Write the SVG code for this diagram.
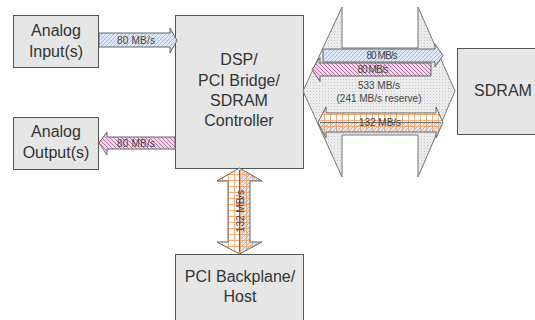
<svg xmlns="http://www.w3.org/2000/svg" width="535" height="320" viewBox="0 0 535 320">
<style>
.box{fill:#e6e6e6;stroke:#555;stroke-width:1}
.lbl{font-family:"Liberation Sans",Arial,sans-serif;font-size:16px;fill:#333;text-anchor:middle}
.sm{font-family:"Liberation Sans",Arial,sans-serif;font-size:10px;fill:#444;text-anchor:middle}
.ol{stroke:#666;stroke-width:1;stroke-linejoin:miter}
</style>
<defs>
<pattern id="blueHatch" width="4" height="4" patternUnits="userSpaceOnUse">
<rect width="4" height="4" fill="#dfe8f6"/>
<path d="M-1,1 l2,-2 M0,4 l4,-4 M3,5 l2,-2" stroke="#9ab0d8" stroke-width="0.8"/>
</pattern>
<pattern id="pinkHatch" width="4" height="4" patternUnits="userSpaceOnUse">
<rect width="4" height="4" fill="#efd9ea"/>
<path d="M-1,3 l2,2 M0,0 l4,4 M3,-1 l2,2" stroke="#b2689c" stroke-width="0.9"/>
</pattern>
<pattern id="orangeGrid" width="6" height="6" patternUnits="userSpaceOnUse">
<path d="M0,0.5 H6 M0.5,0 V6" stroke="#f5a46a" stroke-width="0.9" fill="none"/>
</pattern>
<pattern id="dots" width="3" height="3" patternUnits="userSpaceOnUse">
<rect width="3" height="3" fill="#ececec"/>
<rect x="1" y="1" width="1" height="1" fill="#c6c6c6"/>
</pattern>
<clipPath id="lowerHalf"><rect x="300" y="122.5" width="160" height="20"/></clipPath>
<clipPath id="rightHalf"><rect x="239.5" y="160" width="30" height="100"/></clipPath>
</defs>
<rect width="535" height="320" fill="#fff"/>

<g id="analog-input"><rect class="box" x="13.5" y="15.5" width="85" height="52"/>
<text class="lbl" x="56" y="36">Analog</text><text class="lbl" x="56" y="57">Input(s)</text></g>

<g id="analog-output"><rect class="box" x="13.5" y="117.5" width="85" height="52"/>
<text class="lbl" x="56" y="137">Analog</text><text class="lbl" x="56" y="158">Output(s)</text></g>

<g id="dsp"><rect class="box" x="175.5" y="15.5" width="128" height="153"/>
<text class="lbl" x="239" y="65">DSP/</text><text class="lbl" x="239" y="86">PCI Bridge/</text>
<text class="lbl" x="239" y="106">SDRAM</text><text class="lbl" x="239" y="126">Controller</text></g>

<g id="sdram"><rect class="box" x="457.5" y="48.5" width="82" height="86"/>
<text class="lbl" x="503" y="96">SDRAM</text></g>

<g id="pci-host"><rect class="box" x="175.5" y="254.5" width="128" height="70"/>
<text class="lbl" x="240" y="282">PCI Backplane/</text><text class="lbl" x="240" y="302">Host</text></g>

<g id="connectors">
<path class="ol" fill="url(#blueHatch)" d="M99,33 H170 V28 L177,40.5 L170,53 V47 H99 Z"/>
<text class="sm" x="136" y="44" textLength="38">80 MB/s</text>

<path class="ol" fill="url(#pinkHatch)" d="M175,137 H107 V132 L99,143 L107,155 V149 H175 Z"/>
<text class="sm" x="136" y="147" textLength="38">80 MB/s</text>

<path stroke="#777" stroke-width="1" fill="url(#dots)" d="M303,91 L342,7 V48 H418 V7 L455,91 L418,177 V135 H342 V177 Z"/>

<path class="ol" fill="url(#blueHatch)" d="M323,49 H435 V44 L443,55.5 L435,67 V62 H323 Z"/>
<text class="sm" x="382" y="59" font-size="9.5" textLength="31">80 MB/s</text>
<path class="ol" fill="url(#pinkHatch)" d="M431,63 H320 V57.5 L312,69.5 L320,81.5 V76 H431 Z"/>
<text class="sm" x="373" y="73" font-size="9.5" textLength="31">80 MB/s</text>

<text class="sm" x="379" y="89" font-size="10.5">533 MB/s</text>
<text class="sm" x="379" y="102" font-size="10.5">(241 MB/s reserve)</text>

<path fill="#fff" d="M326,113 H436 V107 L443,122.5 L436,138 V132 H326 V138 L318,122.5 L326,107 Z"/>
<path fill="url(#blueHatch)" clip-path="url(#lowerHalf)" d="M326,113 H436 V107 L443,122.5 L436,138 V132 H326 V138 L318,122.5 L326,107 Z"/>
<path fill="url(#orangeGrid)" d="M326,113 H436 V107 L443,122.5 L436,138 V132 H326 V138 L318,122.5 L326,107 Z"/>
<path class="ol" fill="none" d="M326,113 H436 V107 L443,122.5 L436,138 V132 H326 V138 L318,122.5 L326,107 Z M320,122.5 H441"/>
<text class="sm" x="380" y="126" font-size="10.5">132 MB/s</text>

<path fill="#fff" d="M228,181 H217 L239.5,168 L262,181 H250 V242 H262 L239.5,254 L217,242 H228 Z"/>
<path fill="url(#blueHatch)" clip-path="url(#rightHalf)" d="M228,181 H217 L239.5,168 L262,181 H250 V242 H262 L239.5,254 L217,242 H228 Z"/>
<path fill="url(#orangeGrid)" d="M228,181 H217 L239.5,168 L262,181 H250 V242 H262 L239.5,254 L217,242 H228 Z"/>
<path class="ol" fill="none" d="M228,181 H217 L239.5,168 L262,181 H250 V242 H262 L239.5,254 L217,242 H228 Z M239.5,170 V252"/>
<text class="sm" font-size="10.5" transform="translate(243.5,211) rotate(-90)" x="0" y="0">132 MB/s</text>
</g>
</svg>
